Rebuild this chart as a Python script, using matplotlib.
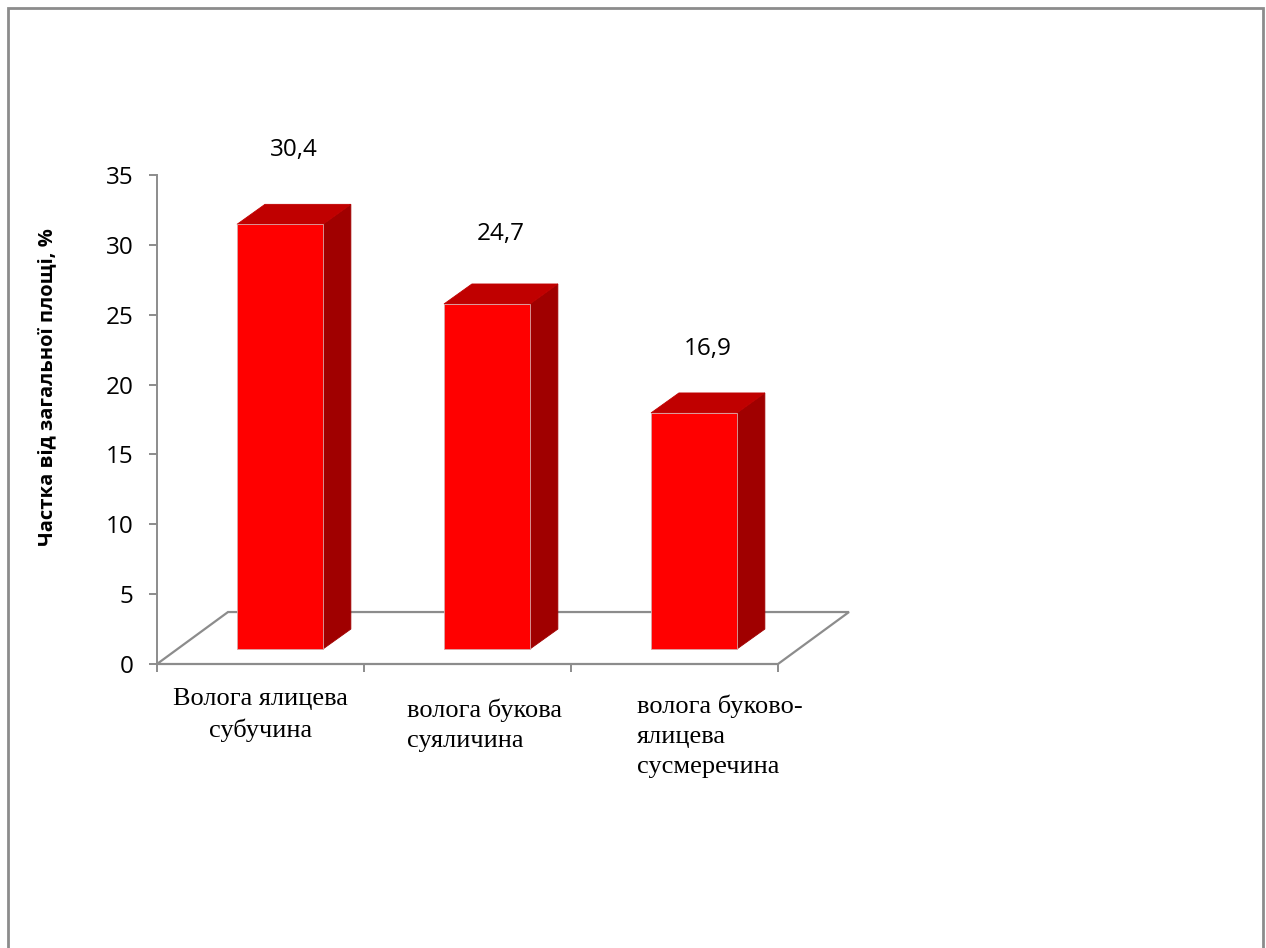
import matplotlib
matplotlib.use("Agg")
import matplotlib.pyplot as plt
from matplotlib.patches import Polygon, Rectangle

categories = ["Волога ялицева\nсубучина",
              "волога букова\nсуяличина",
              "волога буково-\nялицева\nсусмеречина"]
values = [30.4, 24.7, 16.9]
value_labels = ["30,4", "24,7", "16,9"]
yticks = [0, 5, 10, 15, 20, 25, 30, 35]
ylabel = "Частка від загальної площі, %"

W, H = 1266, 948
fig = plt.figure(figsize=(W / 100, H / 100), dpi=100)
fig.patch.set_facecolor("white")

# plot area in pixels: x 157..778, y 664 (0) .. 175 (35)
ax = fig.add_axes([157 / W, (H - 664) / H, (778 - 157) / W, (664 - 175) / H])
ax.set_xlim(0, 3)
ax.set_ylim(0, 35)

grey = "#8c8c8c"

# pseudo-3d geometry (data units)
floor_dx, floor_dy = 0.343, 3.72
bar_off_x, bar_off_y = 0.094, 1.07
bar_w = 0.415
side_dx, side_dy = 0.135, 1.43

# floor
floor = Polygon([(0, 0), (3, 0), (3 + floor_dx, floor_dy), (floor_dx, floor_dy)],
                closed=True, facecolor="white", edgecolor=grey, lw=1.6,
                clip_on=False, zorder=1)
ax.add_patch(floor)

edge = "#d8a8a8"
for i, v in enumerate(values):
    x0 = i + 0.5 - bar_w / 2 + bar_off_x
    x1 = x0 + bar_w
    y0 = bar_off_y
    y1 = y0 + v
    front = Polygon([(x0, y0), (x1, y0), (x1, y1), (x0, y1)],
                    facecolor="#ff0000", edgecolor=edge, lw=0.6, clip_on=False, zorder=3)
    side = Polygon([(x1, y0), (x1 + side_dx, y0 + side_dy), (x1 + side_dx, y1 + side_dy), (x1, y1)],
                   facecolor="#a00000", edgecolor="#a00000", lw=0.6, clip_on=False, zorder=3)
    top = Polygon([(x0, y1), (x1, y1), (x1 + side_dx, y1 + side_dy), (x0 + side_dx, y1 + side_dy)],
                  facecolor="#c00000", edgecolor="#c00000", lw=0.6, clip_on=False, zorder=3)
    for p in (side, top, front):
        ax.add_patch(p)
    ax.text((x0 + x1 + side_dx) / 2, v + 4.6 + 0.06 * v, value_labels[i],
            ha="center", va="center", fontsize=17.5, family="Open Sans",
            color="black", clip_on=False)

# axes styling
for s in ("top", "right", "bottom"):
    ax.spines[s].set_visible(False)
ax.spines["left"].set_color(grey)
ax.spines["left"].set_linewidth(1.4)
ax.set_yticks(yticks)
ax.set_yticklabels([str(t) for t in yticks], family="Open Sans", fontsize=17.5)
ax.tick_params(axis="y", direction="out", length=6, width=1.4, color=grey, pad=11)
ax.set_xticks([0, 1, 2, 3])
ax.set_xticklabels([])
ax.tick_params(axis="x", direction="out", length=6, width=1.4, color=grey)
ax.set_facecolor("none")

# category labels
lab_kw = dict(fontsize=19, family="Liberation Serif", linespacing=1.45, clip_on=False, va="top")
ax.text(0.5, -1.75, categories[0], ha="center", multialignment="center", **lab_kw)
ax.text(1.208, -2.5, categories[1], ha="left", multialignment="left", **lab_kw)
ax.text(2.319, -2.2, categories[2], ha="left", multialignment="left", **lab_kw)

# y axis title
fig.text(47 / W, 1 - 387 / H, ylabel, rotation=90, ha="center", va="center",
         fontsize=14.5, fontweight="bold", family="Open Sans")

# outer chart border
fig.add_artist(Rectangle((8 / W, -0.05), (1263 - 8) / W, 1 - 8 / H + 0.05,
                         transform=fig.transFigure, fill=False, ec=grey, lw=2))

fig.savefig("out.png", dpi=100)
